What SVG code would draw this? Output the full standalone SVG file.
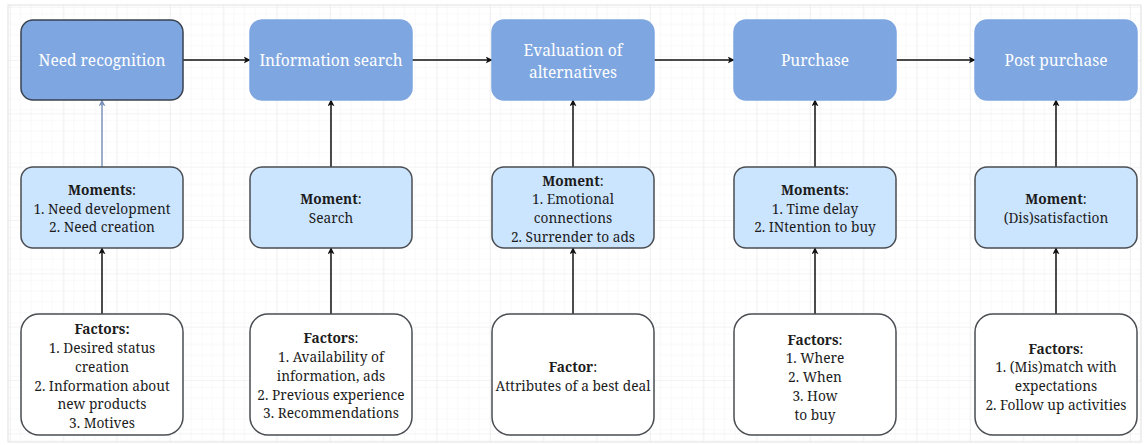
<svg xmlns="http://www.w3.org/2000/svg" width="1146" height="445" viewBox="0 0 1146 445">
  <defs>
    <!-- minor grid cell -->
    <pattern id="gridMinor" x="10" y="6.67" width="10.667" height="10.667" patternUnits="userSpaceOnUse">
      <path d="M 10.667 0 L 0 0 0 10.667" fill="none" stroke="#f4f4f4" stroke-width="1"/>
    </pattern>
    <!-- major grid cell: five minor cells -->
    <pattern id="gridMajor" x="10" y="6.67" width="53.333" height="53.333" patternUnits="userSpaceOnUse">
      <rect width="53.333" height="53.333" fill="url(#gridMinor)"/>
      <path d="M 53.333 0 L 0 0 0 53.333" fill="none" stroke="#e8e8e8" stroke-width="1"/>
    </pattern>
    <marker id="arrowDark" viewBox="0 0 10 10" refX="9" refY="5" markerWidth="7" markerHeight="7" orient="auto" markerUnits="userSpaceOnUse">
      <path d="M0,0 L10,5 L0,10 L2.5,5 Z" fill="#111"/>
    </marker>
    <marker id="arrowBlue" viewBox="0 0 10 10" refX="9" refY="5" markerWidth="7" markerHeight="7" orient="auto" markerUnits="userSpaceOnUse">
      <path d="M0,0 L10,5 L0,10 L2.5,5 Z" fill="#7b93b8"/>
    </marker>
    <style>
      .stage { fill: #7ea6e0; stroke: #7ea6e0; stroke-width: 1.5; }
      .stage-first { fill: #7ea6e0; stroke: #3a4250; stroke-width: 1.5; }
      .moment { fill: #cce5ff; stroke: #4a4d52; stroke-width: 1.5; }
      .factor { fill: #ffffff; stroke: #4a4d52; stroke-width: 1.5; }
      .t-stage { font-family: "Noto Serif", "Liberation Serif", serif; font-size: 15.5px; fill: #ffffff; text-anchor: middle; }
      .t-body { font-family: "Noto Serif", "Liberation Serif", serif; font-size: 13.7px; fill: #1c1c1c; text-anchor: middle; }
      .b { font-weight: bold; }
      .link { fill: none; stroke: #111; stroke-width: 1.5; marker-end: url(#arrowDark); }
      .link-blue { fill: none; stroke: #7b93b8; stroke-width: 1.5; marker-end: url(#arrowBlue); }
    </style>
  </defs>

  <!-- canvas with grid -->
  <rect x="0" y="0" width="1146" height="445" fill="#ffffff"/>
  <rect x="8" y="5" width="1133" height="437" fill="url(#gridMajor)" stroke="#e2e2e2" stroke-width="1"/>

  <!-- connectors -->
  <g id="connectors">
    <path class="link" d="M183,60 L250,60"/>
    <path class="link" d="M412,60 L492,60"/>
    <path class="link" d="M654,60 L734,60"/>
    <path class="link" d="M896,60 L975,60"/>

    <path class="link-blue" d="M102,167 L102,100"/>
    <path class="link" d="M331,167 L331,100"/>
    <path class="link" d="M573,167 L573,100"/>
    <path class="link" d="M815,167 L815,100"/>
    <path class="link" d="M1056,167 L1056,100"/>

    <path class="link" d="M102,314 L102,248"/>
    <path class="link" d="M331,314 L331,248"/>
    <path class="link" d="M573,314 L573,248"/>
    <path class="link" d="M815,314 L815,248"/>
    <path class="link" d="M1056,314 L1056,248"/>
  </g>

  <!-- stages -->
  <g id="stage-need">
    <rect class="stage-first" x="21" y="20" width="162" height="80" rx="12"/>
    <text class="t-stage" x="102" y="65.5">Need recognition</text>
  </g>
  <g id="stage-search">
    <rect class="stage" x="250" y="20" width="162" height="80" rx="12"/>
    <text class="t-stage" x="331" y="65.5">Information search</text>
  </g>
  <g id="stage-evaluation">
    <rect class="stage" x="492" y="20" width="162" height="80" rx="12"/>
    <text class="t-stage" x="573" y="55.5">Evaluation of</text>
    <text class="t-stage" x="573" y="77.5">alternatives</text>
  </g>
  <g id="stage-purchase">
    <rect class="stage" x="734" y="20" width="162" height="80" rx="12"/>
    <text class="t-stage" x="815" y="65.5">Purchase</text>
  </g>
  <g id="stage-post">
    <rect class="stage" x="975" y="20" width="162" height="80" rx="12"/>
    <text class="t-stage" x="1056" y="65.5">Post purchase</text>
  </g>

  <!-- moments -->
  <g id="moment-need">
    <rect class="moment" x="21" y="167" width="162" height="81" rx="12"/>
    <text class="t-body" x="102" y="195"><tspan class="b">Moments</tspan>:</text>
    <text class="t-body" x="102" y="214">1. Need development</text>
    <text class="t-body" x="102" y="232">2. Need creation</text>
  </g>
  <g id="moment-search">
    <rect class="moment" x="250" y="167" width="162" height="81" rx="12"/>
    <text class="t-body" x="331" y="204"><tspan class="b">Moment</tspan>:</text>
    <text class="t-body" x="331" y="223">Search</text>
  </g>
  <g id="moment-evaluation">
    <rect class="moment" x="492" y="167" width="162" height="81" rx="12"/>
    <text class="t-body" x="573" y="186"><tspan class="b">Moment</tspan>:</text>
    <text class="t-body" x="573" y="204">1. Emotional</text>
    <text class="t-body" x="573" y="223">connections</text>
    <text class="t-body" x="573" y="242">2. Surrender to ads</text>
  </g>
  <g id="moment-purchase">
    <rect class="moment" x="734" y="167" width="162" height="81" rx="12"/>
    <text class="t-body" x="815" y="195"><tspan class="b">Moments</tspan>:</text>
    <text class="t-body" x="815" y="214">1. Time delay</text>
    <text class="t-body" x="815" y="232">2. INtention to buy</text>
  </g>
  <g id="moment-post">
    <rect class="moment" x="975" y="167" width="162" height="81" rx="12"/>
    <text class="t-body" x="1056" y="204"><tspan class="b">Moment</tspan>:</text>
    <text class="t-body" x="1056" y="223">(Dis)satisfaction</text>
  </g>

  <!-- factors -->
  <g id="factor-need">
    <rect class="factor" x="21" y="314" width="162" height="121" rx="18"/>
    <text class="t-body b" x="102" y="334">Factors:</text>
    <text class="t-body" x="102" y="353">1. Desired status</text>
    <text class="t-body" x="102" y="372">creation</text>
    <text class="t-body" x="102" y="391">2. Information about</text>
    <text class="t-body" x="102" y="409">new products</text>
    <text class="t-body" x="102" y="428">3. Motives</text>
  </g>
  <g id="factor-search">
    <rect class="factor" x="250" y="314" width="162" height="121" rx="18"/>
    <text class="t-body" x="331" y="343"><tspan class="b">Factors</tspan>:</text>
    <text class="t-body" x="331" y="362">1. Availability of</text>
    <text class="t-body" x="331" y="381">information, ads</text>
    <text class="t-body" x="331" y="400">2. Previous experience</text>
    <text class="t-body" x="331" y="418">3. Recommendations</text>
  </g>
  <g id="factor-evaluation">
    <rect class="factor" x="492" y="314" width="162" height="121" rx="18"/>
    <text class="t-body" x="573" y="372"><tspan class="b">Factor</tspan>:</text>
    <text class="t-body" x="573" y="391">Attributes of a best deal</text>
  </g>
  <g id="factor-purchase">
    <rect class="factor" x="734" y="314" width="162" height="121" rx="18"/>
    <text class="t-body" x="815" y="345"><tspan class="b">Factors</tspan>:</text>
    <text class="t-body" x="815" y="363">1. Where</text>
    <text class="t-body" x="815" y="382">2. When</text>
    <text class="t-body" x="815" y="401">3. How</text>
    <text class="t-body" x="815" y="420">to buy</text>
  </g>
  <g id="factor-post">
    <rect class="factor" x="975" y="314" width="162" height="121" rx="18"/>
    <text class="t-body" x="1056" y="354"><tspan class="b">Factors</tspan>:</text>
    <text class="t-body" x="1056" y="372">1. (Mis)match with</text>
    <text class="t-body" x="1056" y="391">expectations</text>
    <text class="t-body" x="1056" y="410">2. Follow up activities</text>
  </g>
</svg>
